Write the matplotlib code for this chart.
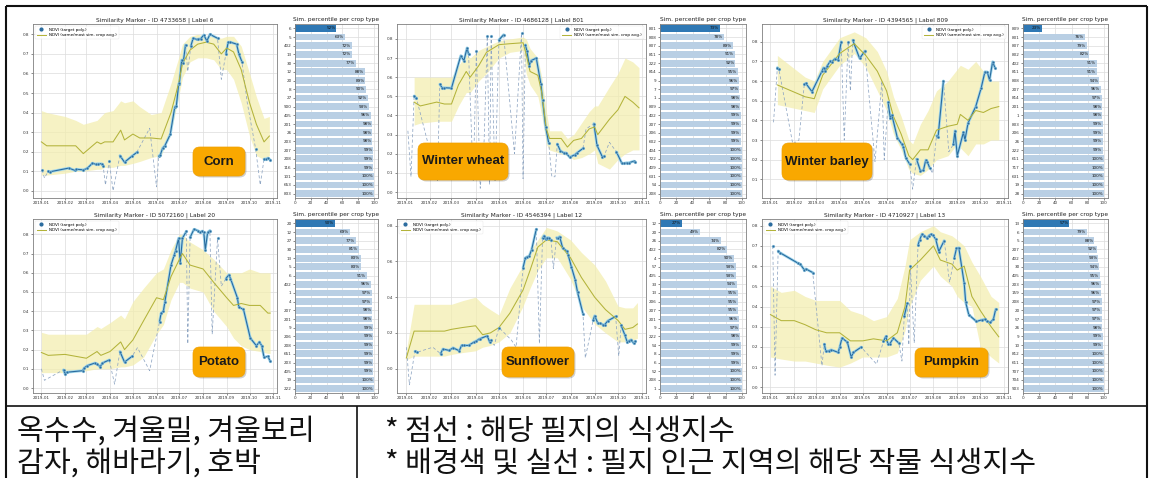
import numpy as np
import matplotlib
matplotlib.use("Agg")
import matplotlib.pyplot as plt
import matplotlib.dates as mdates
from matplotlib.lines import Line2D
from matplotlib.patches import FancyBboxPatch

# ---------------------------------------------------------------- data
# Corn (ID 4733658, label 6)
corn_title = "Similarity Marker - ID 4733658 | Label 6"
corn_dates = ['01-02', '01-10', '01-12', '02-06', '02-14', '02-16', '02-25', '03-02', '03-09', '03-13',
              '03-16', '03-21', '03-23', '03-31', '04-14', '04-20', '04-30', '05-06', '06-04', '06-06',
              '06-09', '06-12', '06-19', '06-25', '06-27', '06-30', '07-01', '07-04', '07-06', '07-09',
              '07-16', '07-19', '07-24', '07-26', '07-29', '08-02', '08-06', '08-10', '08-20', '08-31',
              '09-03', '09-06', '09-14', '09-17', '09-21', '10-09', '10-20', '10-23', '10-25', '10-28']
corn_ndvi = [0.107, 0.100, 0.097, 0.116, 0.104, 0.110, 0.107, 0.114, 0.141, 0.136,
             0.138, 0.138, 0.128, 0.150, 0.180, 0.146, 0.178, 0.196, 0.178, 0.184,
             0.218, 0.231, 0.288, 0.430, 0.434, 0.545, 0.553, 0.669, 0.655, 0.746,
             0.740, 0.780, 0.774, 0.776, 0.778, 0.797, 0.766, 0.800, 0.780, 0.700,
             0.760, 0.760, 0.750, 0.700, 0.660, 0.214, 0.162, 0.163, 0.167, 0.158]
corn_cloud_dates = ['01-05', '03-26', '04-05', '05-23', '06-01', '07-12', '08-25', '09-28', '10-15']
corn_cloud_ndvi = [0.065, 0.03, 0.0, 0.32, 0.02, 0.61, 0.57, 0.45, 0.03]
corn_avg_dates = ['01-01', '01-08', '02-01', '02-15', '02-25', '03-15', '03-20', '03-25', '04-05', '04-15',
                  '04-20', '05-01', '05-10', '05-25', '06-07', '06-20', '06-30', '07-05', '07-15', '07-25',
                  '08-05', '08-15', '08-25', '09-01', '09-10', '09-20', '10-01', '10-10', '10-20', '10-27']
corn_avg = [0.25, 0.23, 0.23, 0.23, 0.19, 0.25, 0.24, 0.25, 0.25, 0.31,
            0.26, 0.29, 0.27, 0.27, 0.265, 0.40, 0.55, 0.65, 0.72, 0.75,
            0.76, 0.75, 0.70, 0.73, 0.71, 0.62, 0.45, 0.34, 0.25, 0.28]
corn_low = [0.08, 0.08, 0.09, 0.10, 0.10, 0.11, 0.11, 0.12, 0.12, 0.13,
            0.13, 0.14, 0.15, 0.17, 0.18, 0.30, 0.48, 0.58, 0.66, 0.68,
            0.68, 0.67, 0.62, 0.62, 0.57, 0.45, 0.28, 0.18, 0.16, 0.18]
corn_high = [0.41, 0.40, 0.38, 0.36, 0.34, 0.36, 0.38, 0.40, 0.41, 0.46,
             0.45, 0.46, 0.43, 0.39, 0.40, 0.55, 0.68, 0.75, 0.79, 0.80,
             0.79, 0.79, 0.78, 0.79, 0.79, 0.74, 0.60, 0.48, 0.37, 0.38]
corn_types = ['6', '5', '402', '13', '30', '12', '20', '8', '27', '900',
              '405', '201', '26', '203', '207', '208', '116', '101', '653', '833']
corn_pct = [52, 63, 72, 72, 77, 88, 89, 90, 92, 93, 96, 98, 98, 98, 99, 99, 99, 100, 100, 100]

# Winter wheat (ID 4686128, label 801)
ww_title = "Similarity Marker - ID 4686128 | Label 801"
ww_dates = ['01-12', '01-15', '02-14', '02-17', '02-20', '03-01', '03-13', '03-17', '03-21', '03-23',
            '04-02', '04-16', '04-21', '05-01', '05-07', '05-30', '06-04', '06-06', '06-09', '06-11',
            '06-18', '06-24', '06-26', '06-30', '07-04', '07-15', '07-19', '07-23', '07-26', '07-31',
            '08-07', '08-09', '08-17', '08-31', '09-04', '09-11', '09-13', '09-29', '10-06', '10-09',
            '10-12', '10-15', '10-21', '10-23']
ww_ndvi = [0.502, 0.490, 0.563, 0.545, 0.545, 0.543, 0.713, 0.686, 0.753, 0.720,
           0.736, 0.814, 0.814, 0.795, 0.822, 0.831, 0.769, 0.736, 0.660, 0.686,
           0.700, 0.563, 0.483, 0.341, 0.255, 0.251, 0.215, 0.206, 0.205, 0.182,
           0.196, 0.204, 0.228, 0.358, 0.244, 0.183, 0.187, 0.210, 0.150, 0.150,
           0.153, 0.153, 0.161, 0.156]
ww_cloud_dates = ['01-04', '01-08', '02-11', '03-29', '04-07', '04-12', '04-19', '04-26', '05-21', '06-01',
                  '07-08', '07-12', '08-21', '09-20']
ww_cloud_ndvi = [0.32, 0.08, 0.06, 0.06, 0.02, 0.27, 0.04, 0.06, 0.20, 0.07,
                 0.08, 0.08, 0.33, 0.26]
ww_avg_dates = ['01-12', '01-20', '02-10', '02-20', '03-01', '03-10', '03-20', '03-25', '04-05', '04-15',
                '05-01', '05-15', '06-01', '06-05', '06-10', '06-20', '06-25', '07-01', '07-05', '07-20',
                '07-28', '08-05', '08-15', '08-25', '09-01', '09-05', '09-20', '10-01', '10-10', '10-20',
                '10-28']
ww_avg = [0.47, 0.45, 0.47, 0.46, 0.46, 0.56, 0.63, 0.60, 0.66, 0.73,
          0.77, 0.775, 0.78, 0.72, 0.63, 0.61, 0.52, 0.33, 0.28, 0.28,
          0.235, 0.27, 0.28, 0.33, 0.34, 0.30, 0.38, 0.43, 0.50, 0.47, 0.44]
ww_low = [0.35, 0.36, 0.37, 0.37, 0.37, 0.45, 0.52, 0.52, 0.58, 0.62,
          0.70, 0.73, 0.74, 0.62, 0.56, 0.50, 0.40, 0.25, 0.22, 0.20,
          0.19, 0.17, 0.18, 0.20, 0.22, 0.15, 0.12, 0.17, 0.20, 0.22, 0.22]
ww_high = [0.60, 0.60, 0.60, 0.60, 0.60, 0.66, 0.72, 0.70, 0.74, 0.76,
           0.79, 0.80, 0.81, 0.80, 0.75, 0.70, 0.60, 0.42, 0.32, 0.32,
           0.28, 0.30, 0.36, 0.42, 0.45, 0.45, 0.55, 0.62, 0.70, 0.68, 0.65]
ww_types = ['801', '808', '807', '811', '222', '814', '9', '7', '1', '809',
            '402', '207', '206', '602', '404', '722', '409', '631', '54', '208']
ww_pct = [73, 78, 89, 91, 92, 95, 96, 97, 98, 98, 99, 99, 99, 99, 100, 100, 100, 100, 100, 100]

# Winter barley (ID 4394565, label 809)
wb_title = "Similarity Marker - ID 4394565 | Label 809"
wb_dates = ['01-10', '01-12', '02-14', '02-16', '02-24', '03-09', '03-11', '03-13', '03-16', '03-20',
            '03-22', '03-26', '03-30', '04-03', '04-12', '04-18', '04-27', '05-04', '06-03', '06-06',
            '06-08', '06-15', '06-21', '06-23', '06-26', '07-01', '07-10', '07-15', '07-19', '07-22',
            '07-24', '07-27', '08-05', '08-07', '08-14', '08-27', '08-29', '09-01', '09-09', '09-11',
            '09-15', '09-25', '10-02', '10-07', '10-10', '10-13', '10-17', '10-20']
wb_ndvi = [0.668, 0.659, 0.583, 0.588, 0.546, 0.650, 0.668, 0.653, 0.678, 0.702,
           0.698, 0.714, 0.707, 0.800, 0.800, 0.808, 0.715, 0.753, 0.492, 0.410,
           0.427, 0.312, 0.278, 0.264, 0.210, 0.178, 0.203, 0.144, 0.146, 0.198,
           0.190, 0.159, 0.322, 0.314, 0.600, 0.278, 0.347, 0.220, 0.339, 0.300,
           0.386, 0.470, 0.563, 0.647, 0.646, 0.605, 0.698, 0.668]
wb_cloud_dates = ['01-05', '01-30', '02-07', '04-07', '04-15', '05-17', '05-26', '05-29', '07-05', '07-31',
                  '08-21']
wb_cloud_ndvi = [0.39, 0.28, 0.30, 0.30, 0.55, 0.19, 0.60, 0.20, 0.05, 0.13, 0.24]
wb_avg_dates = ['01-10', '02-15', '02-27', '03-10', '04-01', '04-20', '05-05', '05-20', '06-01', '06-10',
                '06-20', '06-30', '07-05', '07-15', '07-25', '08-05', '08-20', '09-01', '09-05', '09-15',
                '09-25', '10-05', '10-15', '10-25']
wb_avg = [0.58, 0.52, 0.51, 0.63, 0.74, 0.79, 0.73, 0.65, 0.55, 0.42,
          0.33, 0.22, 0.20, 0.25, 0.25, 0.35, 0.37, 0.38, 0.43, 0.40,
          0.45, 0.44, 0.46, 0.47]
wb_low = [0.48, 0.45, 0.44, 0.56, 0.68, 0.74, 0.67, 0.55, 0.45, 0.33,
          0.25, 0.15, 0.13, 0.12, 0.15, 0.20, 0.22, 0.28, 0.26, 0.22,
          0.28, 0.28, 0.30, 0.30]
wb_high = [0.73, 0.62, 0.60, 0.70, 0.82, 0.85, 0.82, 0.75, 0.65, 0.52,
           0.42, 0.30, 0.28, 0.38, 0.45, 0.55, 0.60, 0.66, 0.68, 0.66,
           0.70, 0.65, 0.60, 0.60]
wb_types = ['809', '801', '807', '802', '402', '811', '808', '207', '814', '201',
            '1', '803', '206', '26', '222', '611', '717', '631', '19', '28']
wb_pct = [23, 76, 79, 82, 91, 91, 94, 96, 97, 98, 98, 99, 99, 99, 99, 100, 100, 100, 100, 100]

# Potato (ID 5072160, label 20)
po_title = "Similarity Marker - ID 5072160 | Label 20"
po_dates = ['01-30', '02-01', '02-03', '02-24', '02-26', '03-02', '03-12', '03-15', '03-19', '03-22',
            '03-31', '04-14', '04-20', '04-30', '06-05', '06-07', '06-10', '06-12', '06-20', '06-24',
            '06-26', '06-30', '07-02', '07-05', '07-10', '07-15', '07-20', '07-25', '07-28', '07-31',
            '08-02', '08-04', '08-07', '08-10', '08-20', '08-31', '09-04', '09-06', '09-15', '09-17',
            '09-23', '10-02', '10-10', '10-14', '10-17', '10-20', '10-25', '10-28']
po_ndvi = [0.095, 0.073, 0.082, 0.090, 0.104, 0.116, 0.130, 0.126, 0.110, 0.130,
           0.146, 0.190, 0.135, 0.165, 0.346, 0.390, 0.400, 0.450, 0.640, 0.690,
           0.715, 0.780, 0.650, 0.780, 0.815, 0.784, 0.826, 0.820, 0.810, 0.817,
           0.810, 0.720, 0.810, 0.820, 0.780, 0.570, 0.590, 0.570, 0.470, 0.420,
           0.410, 0.260, 0.220, 0.240, 0.220, 0.160, 0.165, 0.140]
po_cloud_dates = ['01-01', '01-05', '04-07', '05-07', '05-23', '07-12', '08-13', '08-25']
po_cloud_ndvi = [0.10, 0.04, 0.02, 0.21, 0.09, 0.23, 0.28, 0.53]
po_avg_dates = ['01-01', '01-10', '02-01', '03-01', '03-15', '03-20', '04-01', '04-15', '04-20', '05-01',
                '05-15', '06-01', '06-10', '06-20', '07-01', '07-05', '07-15', '08-01', '08-15', '09-01',
                '09-10', '09-20', '10-01', '10-15', '10-25', '10-28']
po_avg = [0.185, 0.17, 0.175, 0.155, 0.19, 0.17, 0.19, 0.24, 0.20, 0.25,
          0.35, 0.47, 0.46, 0.58, 0.67, 0.70, 0.64, 0.62, 0.55, 0.47,
          0.43, 0.44, 0.43, 0.43, 0.39, 0.39]
po_low = [0.08, 0.08, 0.08, 0.09, 0.10, 0.10, 0.10, 0.11, 0.11, 0.12,
          0.16, 0.28, 0.33, 0.46, 0.55, 0.55, 0.52, 0.50, 0.40, 0.32,
          0.26, 0.22, 0.20, 0.19, 0.18, 0.18]
po_high = [0.29, 0.28, 0.28, 0.28, 0.32, 0.31, 0.34, 0.38, 0.36, 0.45,
           0.52, 0.60, 0.62, 0.72, 0.80, 0.80, 0.76, 0.72, 0.67, 0.60,
           0.60, 0.60, 0.62, 0.60, 0.60, 0.60]
po_types = ['20', '12', '27', '30', '13', '5', '6', '402', '1', '4',
            '207', '201', '9', '206', '208', '651', '203', '405', '19', '222']
po_pct = [50, 69, 77, 81, 83, 83, 91, 96, 97, 97, 98, 98, 99, 99, 99, 99, 99, 99, 100, 100]

# Sunflower (ID 4546394, label 12)
sf_title = "Similarity Marker - ID 4546394 | Label 12"
sf_dates = ['01-13', '01-16', '02-15', '02-18', '02-26', '03-03', '03-11', '03-14', '03-17', '03-23',
            '03-30', '04-02', '04-05', '04-07', '04-16', '04-19', '04-21', '05-01', '06-01', '06-04',
            '06-06', '06-09', '06-12', '06-18', '06-26', '06-28', '06-30', '07-02', '07-04', '07-07',
            '07-14', '07-16', '07-18', '07-22', '07-27', '07-29', '08-02', '08-07', '08-10', '08-17',
            '08-30', '09-01', '09-05', '09-08', '09-12', '09-14', '09-18', '09-28', '10-05', '10-10',
            '10-13', '10-15', '10-18', '10-21', '10-23']
sf_ndvi = [0.097, 0.092, 0.084, 0.110, 0.102, 0.117, 0.100, 0.130, 0.130, 0.130,
           0.149, 0.155, 0.164, 0.168, 0.184, 0.150, 0.160, 0.230, 0.565, 0.620,
           0.625, 0.630, 0.665, 0.780, 0.729, 0.744, 0.726, 0.733, 0.733, 0.718,
           0.733, 0.729, 0.739, 0.673, 0.659, 0.636, 0.571, 0.497, 0.428, 0.307,
           0.270, 0.296, 0.255, 0.253, 0.246, 0.247, 0.268, 0.292, 0.242, 0.186,
           0.147, 0.156, 0.162, 0.143, 0.153]
sf_cloud_dates = ['01-02', '01-06', '02-05', '04-25', '05-17', '05-23', '06-22', '07-10', '08-20', '10-02']
sf_cloud_ndvi = [0.12, -0.09, 0.12, 0.13, 0.16, 0.12, 0.14, 0.56, 0.06, 0.07]
sf_avg_dates = ['01-02', '01-12', '02-01', '02-20', '03-01', '03-15', '04-01', '04-10', '04-20', '05-01',
                '05-15', '06-01', '06-10', '06-20', '07-01', '07-15', '08-01', '08-15', '09-01', '09-15',
                '10-01', '10-10', '10-20', '10-26']
sf_avg = [0.06, 0.21, 0.21, 0.21, 0.22, 0.23, 0.24, 0.19, 0.20, 0.23,
          0.31, 0.44, 0.55, 0.68, 0.72, 0.71, 0.62, 0.51, 0.40, 0.33,
          0.27, 0.22, 0.23, 0.25]
sf_low = [0.05, 0.07, 0.07, 0.07, 0.08, 0.09, 0.10, 0.12, 0.13, 0.15,
          0.20, 0.35, 0.45, 0.55, 0.62, 0.62, 0.50, 0.35, 0.25, 0.20,
          0.15, 0.15, 0.16, 0.17]
sf_high = [0.10, 0.36, 0.36, 0.36, 0.36, 0.38, 0.40, 0.36, 0.33, 0.30,
           0.45, 0.58, 0.66, 0.72, 0.79, 0.77, 0.72, 0.65, 0.58, 0.49,
           0.35, 0.34, 0.34, 0.37]
sf_types = ['12', '20', '26', '402', '4', '57', '405', '33', '13', '206',
            '207', '201', '9', '222', '54', '8', '6', '52', '208', '1']
sf_pct = [27, 49, 74, 82, 90, 93, 93, 94, 95, 95, 95, 96, 97, 98, 99, 99, 99, 100, 100, 100]

# Pumpkin (ID 4710927, label 13)
pk_title = "Similarity Marker - ID 4710927 | Label 13"
pk_dates = ['01-04', '01-11', '01-13', '02-06', '02-09', '02-14', '02-16', '02-25', '03-12', '03-14',
            '03-18', '03-21', '03-30', '04-01', '04-04', '04-11', '04-16', '04-19', '04-29', '05-28',
            '05-31', '06-03', '06-05', '06-10', '06-17', '06-24', '06-28', '07-02', '07-12', '07-14',
            '07-17', '07-20', '07-24', '07-26', '07-29', '07-31', '08-04', '08-08', '08-15', '08-28',
            '08-31', '09-03', '09-10', '09-12', '09-16', '09-26', '10-03', '10-07', '10-10', '10-14',
            '10-18', '10-21']
pk_ndvi = [0.700, 0.675, 0.667, 0.614, 0.609, 0.581, 0.586, 0.568, 0.214, 0.178,
           0.181, 0.186, 0.173, 0.198, 0.244, 0.224, 0.150, 0.173, 0.199, 0.227,
           0.252, 0.214, 0.214, 0.244, 0.219, 0.351, 0.416, 0.601, 0.705, 0.729,
           0.757, 0.751, 0.737, 0.751, 0.757, 0.754, 0.733, 0.672, 0.726, 0.639,
           0.688, 0.691, 0.515, 0.420, 0.359, 0.326, 0.334, 0.337, 0.326, 0.321,
           0.337, 0.387]
pk_cloud_dates = ['01-07', '03-09', '05-19', '06-21', '06-30', '07-07', '08-22']
pk_cloud_ndvi = [0.06, 0.107, 0.115, 0.13, 0.21, 0.22, 0.52]
pk_avg_dates = ['01-01', '01-15', '02-01', '02-15', '03-01', '03-15', '04-01', '04-15', '05-01', '05-15',
                '06-01', '06-15', '06-25', '07-01', '07-15', '08-01', '08-10', '08-25', '09-01', '09-10',
                '09-20', '10-01', '10-15', '10-25']
pk_avg = [0.36, 0.33, 0.33, 0.31, 0.285, 0.27, 0.27, 0.23, 0.23, 0.24,
          0.23, 0.27, 0.40, 0.58, 0.63, 0.70, 0.63, 0.61, 0.58, 0.60,
          0.45, 0.38, 0.30, 0.25]
pk_low = [0.15, 0.14, 0.13, 0.13, 0.12, 0.11, 0.10, 0.12, 0.15, 0.15,
          0.15, 0.17, 0.28, 0.40, 0.53, 0.60, 0.55, 0.50, 0.45, 0.42,
          0.40, 0.20, 0.15, 0.12]
pk_high = [0.50, 0.47, 0.48, 0.45, 0.43, 0.43, 0.43, 0.38, 0.36, 0.33,
           0.35, 0.44, 0.60, 0.73, 0.77, 0.80, 0.77, 0.75, 0.73, 0.70,
           0.62, 0.55, 0.45, 0.42]
pk_types = ['13', '6', '5', '207', '402', '30', '405', '203', '159', '208',
            '20', '57', '26', '9', '10', '812', '611', '707', '704', '903']
pk_pct = [57, 79, 88, 92, 93, 94, 95, 96, 96, 97, 97, 97, 98, 99, 99, 100, 100, 100, 100, 100]

crop_names = ['Corn', 'Winter wheat', 'Winter barley', 'Potato', 'Sunflower', 'Pumpkin']
table_left = ['옥수수, 겨울밀, 겨울보리', '감자, 해바라기, 호박']
table_right = ['* 점선 : 해당 필지의 식생지수', '* 배경색 및 실선 : 필지 인근 지역의 해당 작물 식생지수']

# ---------------------------------------------------------------- figure
W, H = 1153, 478
fig = plt.figure(figsize=(W / 100, H / 100), dpi=100)
fig.patch.set_facecolor('white')

BLUE = '#2a6b9e'
HALO = '#9fd6ec'
DASH = '#8fa6c3'
OLIVE = '#b3b33a'
BAND = '#f3eeb0'
GRID = '#dcdcdc'
SPINE = '#7f7f7f'


def px_axes(x0, y0, x1, y1):
    return fig.add_axes([x0 / W, 1 - y1 / H, (x1 - x0) / W, (y1 - y0) / H])


def to_dt(days):
    return np.array(['2019-' + s for s in days], dtype='datetime64[D]')


def style_axes(ax):
    for s in ax.spines.values():
        s.set_color(SPINE)
        s.set_linewidth(0.6)
    ax.tick_params(labelsize=3, length=1.5, width=0.4, pad=1, colors='#333333')
    ax.grid(True, color=GRID, linewidth=0.5)
    ax.set_axisbelow(True)


def ndvi_panel(box, title, dates, ndvi, cdates, cndvi, adates, avg, low, high,
               ylim, yticks, legend_loc):
    ax = px_axes(*box)
    style_axes(ax)
    t = np.concatenate([to_dt(dates), to_dt(cdates)])
    v = np.array(ndvi + cndvi, float)
    ok = np.r_[np.ones(len(dates), bool), np.zeros(len(cdates), bool)]
    order = np.argsort(t, kind='stable')
    t, v, ok = t[order], v[order], ok[order]
    solid = np.where(ok, v, np.nan)

    ta = to_dt(adates)
    ax.fill_between(ta, low, high, color=BAND, alpha=0.75, linewidth=0, zorder=1)
    ax.plot(t, v, color=DASH, lw=0.55, dashes=(4, 3), zorder=2)
    ax.plot(t, solid, color=HALO, lw=2.0, solid_capstyle='round', zorder=3)
    ax.plot(t, solid, color=BLUE, lw=0.8, zorder=4)
    ax.plot(to_dt(dates), ndvi, 'o', ms=2.0, color=BLUE, mec=HALO, mew=0.3, zorder=5)
    ax.plot(ta, avg, color=OLIVE, lw=0.75, zorder=4)

    ax.set_xlim(np.datetime64('2018-12-21'), np.datetime64('2019-11-06'))
    ax.xaxis.set_major_locator(mdates.MonthLocator())
    ax.xaxis.set_major_formatter(mdates.DateFormatter('%Y-%m'))
    ax.set_ylim(*ylim)
    ax.set_yticks(yticks)
    ax.set_yticklabels([f'{y:.1f}' for y in yticks])
    ax.set_title(title, fontsize=4.2, pad=2, color='#222222')

    handles = [Line2D([], [], marker='o', ls='', ms=2.0, color=BLUE),
               Line2D([], [], color=OLIVE, lw=0.75)]
    ax.legend(handles, ['NDVI (target poly.)', 'NDVI (same/most sim. crop avg.)'],
              loc=legend_loc, fontsize=3, frameon=True, framealpha=0.8,
              edgecolor='#dddddd', handlelength=2.2, borderpad=0.4,
              labelspacing=0.3, fancybox=True).get_frame().set_linewidth(0.3)
    return ax


def pct_panel(box, types, pct):
    ax = px_axes(*box)
    style_axes(ax)
    y = np.arange(len(types))
    colors = ['#2f78b4'] + ['#b9cfe4'] * (len(types) - 1)
    ax.barh(y, pct, height=0.78, color=colors, zorder=2)
    for yi, p in zip(y, pct):
        ax.text(p - 1, yi, f'{p}%', fontsize=3, ha='right', va='center', color='#111111', zorder=3)
    ax.set_yticks(y)
    ax.set_yticklabels(types)
    ax.set_ylim(len(types) - 0.5, -0.5)
    ax.set_xlim(0, 105)
    ax.set_xticks(range(0, 101, 20))
    ax.set_title('Sim. percentile per crop type', fontsize=4.2, pad=2, color='#222222')
    return ax


tick1 = [0.0, 0.1, 0.2, 0.3, 0.4, 0.5, 0.6, 0.7, 0.8]

ndvi_panel((33, 24, 277, 198), corn_title, corn_dates, corn_ndvi, corn_cloud_dates, corn_cloud_ndvi,
           corn_avg_dates, corn_avg, corn_low, corn_high, (-0.037, 0.853), tick1, 'upper left')
pct_panel((295, 24, 378, 198), corn_types, corn_pct)

ndvi_panel((397, 24, 646, 198), ww_title, ww_dates, ww_ndvi, ww_cloud_dates, ww_cloud_ndvi,
           ww_avg_dates, ww_avg, ww_low, ww_high, (-0.031, 0.878), tick1, 'upper right')
pct_panel((660, 24, 746, 198), ww_types, ww_pct)

ndvi_panel((762, 24, 1008, 198), wb_title, wb_dates, wb_ndvi, wb_cloud_dates, wb_cloud_ndvi,
           wb_avg_dates, wb_avg, wb_low, wb_high, (0.005, 0.89), tick1[1:], 'upper right')
pct_panel((1023, 24, 1108, 198), wb_types, wb_pct)

ndvi_panel((33, 219, 277, 393), po_title, po_dates, po_ndvi, po_cloud_dates, po_cloud_ndvi,
           po_avg_dates, po_avg, po_low, po_high, (-0.026, 0.88), tick1, 'upper left')
pct_panel((295, 219, 378, 393), po_types, po_pct)

ndvi_panel((397, 219, 646, 393), sf_title, sf_dates, sf_ndvi, sf_cloud_dates, sf_cloud_ndvi,
           sf_avg_dates, sf_avg, sf_low, sf_high, (-0.136, 0.837), [0.0, 0.2, 0.4, 0.6, 0.8], 'upper left')
pct_panel((660, 219, 746, 393), sf_types, sf_pct)

ndvi_panel((762, 219, 1008, 393), pk_title, pk_dates, pk_ndvi, pk_cloud_dates, pk_cloud_ndvi,
           pk_avg_dates, pk_avg, pk_low, pk_high, (-0.028, 0.833), tick1, 'upper left')
pct_panel((1023, 219, 1108, 393), pk_types, pk_pct)

# ---------------------------------------------------------------- crop name tags
tag_boxes = [(193, 147, 245, 176), (418, 143, 508, 180), (782, 143, 872, 180),
             (193, 347, 245, 377), (502, 347, 574, 377), (915, 348, 988, 377)]
for name, (x0, y0, x1, y1) in zip(crop_names, tag_boxes):
    fx, fy = x0 / W, 1 - y1 / H
    fw, fh = (x1 - x0) / W, (y1 - y0) / H
    shadow = FancyBboxPatch((fx + 1.5 / W, fy - 1.5 / H), fw, fh,
                            boxstyle='round,pad=0,rounding_size=0.006',
                            transform=fig.transFigure, facecolor='#00000030',
                            edgecolor='none', zorder=9, mutation_aspect=W / H)
    tag = FancyBboxPatch((fx, fy), fw, fh, boxstyle='round,pad=0,rounding_size=0.006',
                         transform=fig.transFigure, facecolor='#f9a800',
                         edgecolor='#f0a000', linewidth=0.5, zorder=10, mutation_aspect=W / H)
    fig.add_artist(shadow)
    fig.add_artist(tag)
    fig.text(fx + fw / 2, fy + fh / 2, name, ha='center', va='center', fontsize=9.5,
             fontweight='bold', family='Liberation Sans', color='#1a1a1a', zorder=11)

# ---------------------------------------------------------------- frame and caption table
def fig_line(x0, y0, x1, y1, lw=1.5):
    fig.add_artist(Line2D([x0 / W, x1 / W], [1 - y0 / H, 1 - y1 / H],
                          transform=fig.transFigure, color='#111111', lw=lw,
                          solid_capstyle='butt', zorder=20))


fig_line(6, 6, 1147, 6)
fig_line(6, 6, 6, 478)
fig_line(1147, 6, 1147, 478)
fig_line(6, 406, 1147, 406, lw=1.2)
fig_line(357, 406, 357, 478, lw=1.2)

cjk = ['Noto Sans CJK KR', 'DejaVu Sans']
for row, yc in enumerate([432, 464]):
    fig.text(17 / W, 1 - yc / H, table_left[row], fontsize=21, family=cjk,
             ha='left', va='center', color='#111111')
    fig.text(385 / W, 1 - yc / H, table_right[row], fontsize=21, family=cjk,
             ha='left', va='center', color='#111111')

fig.savefig('out.png', dpi=100)
